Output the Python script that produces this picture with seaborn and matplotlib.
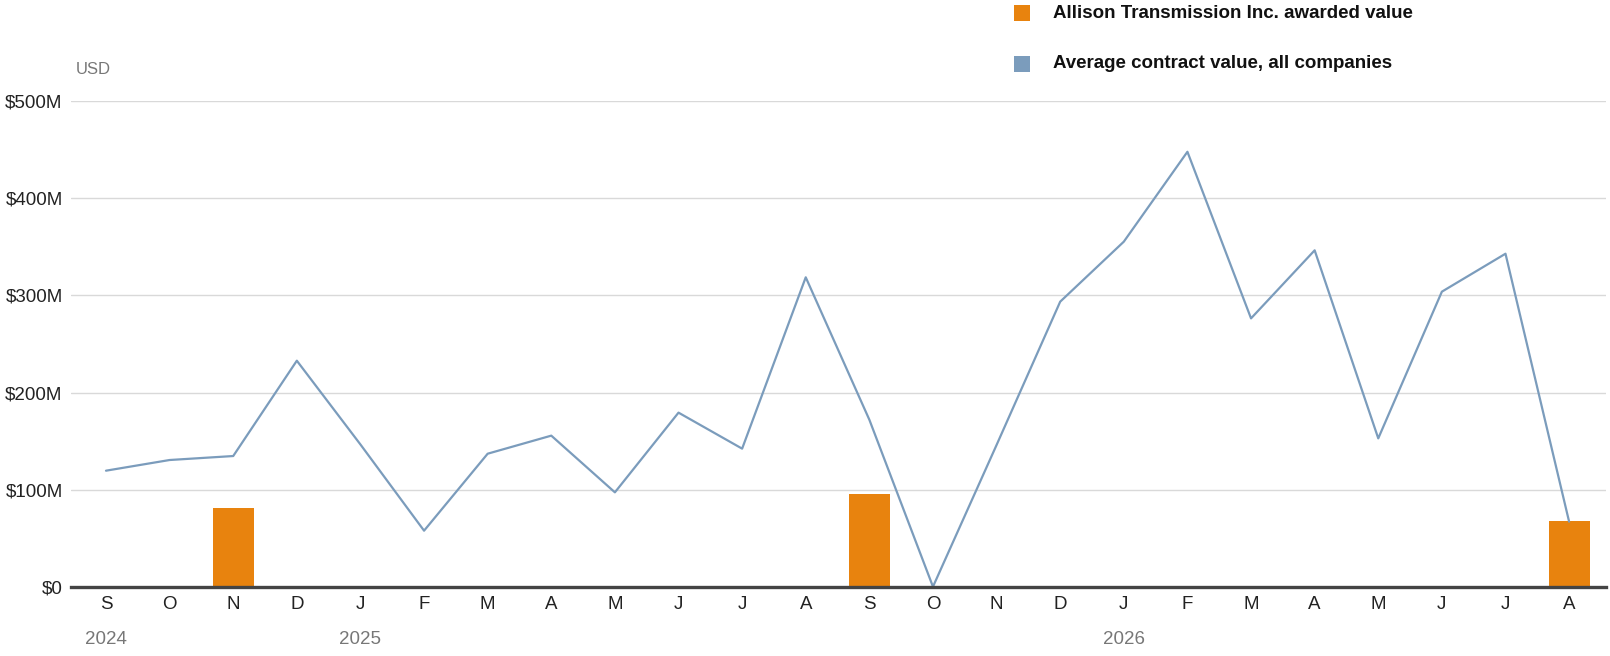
import numpy as np
import pandas as pd
import matplotlib
matplotlib.use("Agg")
import matplotlib.pyplot as plt
import matplotlib.transforms as mtransforms
from matplotlib.patches import Rectangle
import seaborn as sns

# ---- data (values in millions of USD) ----
months = ["S", "O", "N", "D", "J", "F", "M", "A", "M", "J", "J", "A",
          "S", "O", "N", "D", "J", "F", "M", "A", "M", "J", "J", "A"]
avg_contract_value = [119.5, 130.5, 134.6, 232.8, 146.5, 57.7, 137.0, 155.6,
                      97.2, 179.3, 142.2, 318.7, 172.0, 0.0, 146.0, 293.6,
                      355.4, 448.0, 276.4, 346.5, 152.8, 303.9, 343.0, 67.0]
allison_awarded = [0, 0, 81.0, 0, 0, 0, 0, 0, 0, 0, 0, 0,
                   95.5, 0, 0, 0, 0, 0, 0, 0, 0, 0, 0, 67.7]
year_labels = ["2024", "2025", "2026"]
year_label_months = [0, 4, 16]
y_ticks = [0, 100, 200, 300, 400, 500]
y_tick_labels = ["$0", "$100M", "$200M", "$300M", "$400M", "$500M"]
legend_labels = ["Allison Transmission Inc. awarded value",
                 "Average contract value, all companies"]

ORANGE = "#E8830E"
BLUE = "#7B9CBC"

df = pd.DataFrame({
    "idx": np.arange(len(months)),
    "month": months,
    "avg": avg_contract_value,
    "allison": allison_awarded,
})

sns.set_theme(style="white")
plt.rcParams["font.family"] = ["Liberation Sans", "DejaVu Sans"]

W, H = 1610, 656
fig = plt.figure(figsize=(W / 100, H / 100), dpi=100)
ax = fig.add_axes([71 / W, (H - 586.7) / H, (1606 - 71) / W, (586.7 - 101.3) / H])

sns.barplot(data=df, x="idx", y="allison", color=ORANGE, width=0.645,
            linewidth=0, saturation=1, ax=ax, zorder=2)
sns.lineplot(data=df, x="idx", y="avg", color=BLUE, linewidth=1.6,
             ax=ax, zorder=3, legend=False)

ax.set_xlim(-0.55, len(months) - 1 + 0.58)
ax.set_ylim(0, 500)
ax.set_yticks(y_ticks)
ax.set_yticklabels(y_tick_labels)
ax.set_xticks(df["idx"])
ax.set_xticklabels(months)
ax.set_xlabel("")
ax.set_ylabel("")

ax.grid(axis="y", color="#d9d9d9", linewidth=1.0, zorder=0)
ax.grid(axis="x", visible=False)
ax.set_axisbelow(True)
for side in ["top", "right", "left"]:
    ax.spines[side].set_visible(False)
ax.spines["bottom"].set_color("#444444")
ax.spines["bottom"].set_linewidth(2.4)
ax.spines["bottom"].set_zorder(4)

ax.tick_params(axis="y", length=0, pad=6, labelsize=13.5, labelcolor="#222222")
ax.tick_params(axis="x", length=0, pad=7, labelsize=13.5, labelcolor="#222222")

# year labels under the month ticks
trans = mtransforms.blended_transform_factory(ax.transData, fig.transFigure)
for m, lab in zip(year_label_months, year_labels):
    ax.text(m, (H - 639.5) / H, lab, transform=trans, ha="center", va="center",
            fontsize=13.5, color="#777777")

# unit label
fig.text(76 / W, (H - 70) / H, "USD", ha="left", va="center",
         fontsize=12, color="#777777")

# legend (top right)
for (yc, col, lab) in [(13, ORANGE, legend_labels[0]), (64, BLUE, legend_labels[1])]:
    fig.patches.append(Rectangle((1014 / W, (H - yc - 8) / H), 16 / W, 16 / H,
                                 transform=fig.transFigure, facecolor=col,
                                 edgecolor="none"))
    fig.text(1053 / W, (H - yc) / H, lab, ha="left", va="center",
             fontsize=13.5, fontweight="bold", color="#111111")

fig.savefig("out.png", dpi=100)
